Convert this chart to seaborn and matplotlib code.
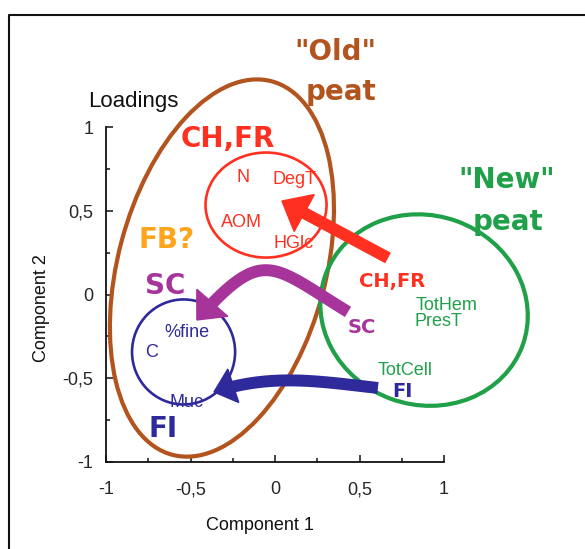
import numpy as np
import matplotlib
matplotlib.use("Agg")
import matplotlib.pyplot as plt
from matplotlib.patches import Ellipse, Polygon
from matplotlib.lines import Line2D
from matplotlib.ticker import MultipleLocator
import seaborn as sns

# ---- data -------------------------------------------------------------
tick_values = [-1, -0.5, 0, 0.5, 1]
tick_labels = ["-1", "-0,5", "0", "0,5", "1"]

# loadings of the measured variables (label positions)
var_names = ["N", "DegT", "AOM", "HGlc", "%fine", "C", "Muc", "TotHem", "PresT", "TotCell"]
var_x = [-0.189, 0.118, -0.201, 0.112, -0.521, -0.728, -0.521, 1.018, 0.970, 0.769]
var_y = [0.672, 0.660, 0.403, 0.278, -0.254, -0.373, -0.672, -0.093, -0.188, -0.478]
var_group = ["red", "red", "red", "red", "blue", "blue", "blue", "green", "green", "green"]

# groups drawn as ellipses: old peat, CH/FR cluster, SC/FI cluster, new peat
ell_group = ["brown", "red", "blue", "green"]
ell_x = [-0.314, -0.053, -0.541, 0.882]
ell_y = [0.158, 0.534, -0.343, -0.093]
ell_w = [2.306, 0.716, 0.610, 1.240]
ell_h = [1.230, 0.627, 0.627, 1.130]
ell_angle = [75.3, 0, 0, -20]

# big hand-written annotations
big_text = ['"Old"', "peat", '"New"', "peat", "CH,FR", "FB?", "SC", "FI"]
big_x = [0.355, 0.391, 1.373, 1.379, -0.278, -0.639, -0.651, -0.663]
big_y = [1.400, 1.161, 0.636, 0.385, 0.881, 0.278, 0.003, -0.851]
big_group = ["brown", "brown", "green", "green", "red", "orange", "magenta", "blue"]

# process labels at the arrow tails
proc_text = ["CH,FR", "SC", "FI"]
proc_x = [0.692, 0.515, 0.756]
proc_y = [0.045, -0.230, -0.610]
proc_group = ["red", "magenta", "blue"]

# arrows: tail -> tip
arrow_group = ["red", "magenta", "blue"]
arrow_tail_x = [0.669, 0.432, 0.609]
arrow_tail_y = [0.218, -0.104, -0.558]
arrow_tip_x = [0.041, -0.462, -0.361]
arrow_tip_y = [0.558, -0.152, -0.582]

colors = {
    "brown": "#B3541E",
    "red": "#FF3020",
    "blue": "#2F2A9C",
    "green": "#1FA049",
    "magenta": "#A6349A",
    "orange": "#FFA41B",
}

# arrow shapes: angle out of tail, angle into tip (deg), handle lengths
arrow_shape = {
    "red": dict(a_out=151.6, a_in=151.6, h_out=0.24, h_in=0.24, head_len=0.15, head_hw=0.125),
    "magenta": dict(a_out=148.3, a_in=228.5, h_out=0.535, h_in=0.595, head_len=0.137, head_hw=0.122),
    "blue": dict(a_out=173.6, a_in=198.0, h_out=0.36, h_in=0.36, head_len=0.12, head_hw=0.105),
}


def draw_arrow(ax, tail, tip, color, a_out, a_in, h_out, h_in, head_len, head_hw):
    p0 = np.array(tail)
    p3 = np.array(tip)
    u0 = np.array([np.cos(np.radians(a_out)), np.sin(np.radians(a_out))])
    u1 = np.array([np.cos(np.radians(a_in)), np.sin(np.radians(a_in))])
    p1 = p0 + h_out * u0
    p2 = p3 - h_in * u1
    t = np.linspace(0, 1, 100)[:, None]
    pts = (1 - t) ** 3 * p0 + 3 * (1 - t) ** 2 * t * p1 + 3 * (1 - t) * t ** 2 * p2 + t ** 3 * p3
    keep = np.hypot(pts[:, 0] - p3[0], pts[:, 1] - p3[1]) > head_len * 0.7
    sns.lineplot(x=pts[keep, 0], y=pts[keep, 1], sort=False, estimator=None,
                 color=color, lw=8.6, solid_capstyle="butt", clip_on=False, ax=ax)
    base = p3 - head_len * u1
    n = np.array([-u1[1], u1[0]])
    head = Polygon([p3, base + head_hw * n, base - head_hw * n], closed=True,
                   facecolor=color, edgecolor=color, lw=1, clip_on=False, zorder=3)
    ax.add_patch(head)


# ---- figure -----------------------------------------------------------
sns.set_theme(style="ticks")
plt.rcParams["font.family"] = ["Liberation Sans", "DejaVu Sans"]

W, H = 585, 549
fig = plt.figure(figsize=(W / 100, H / 100), dpi=100)
ax = fig.add_axes([106 / W, 1 - 462 / H, 338 / W, 335 / H])

ax.set_xlim(-1, 1)
ax.set_ylim(-1, 1)
sns.despine(ax=ax)
for side in ["left", "bottom"]:
    ax.spines[side].set_linewidth(1.3)
    ax.spines[side].set_color("#111111")
ax.set_xticks(tick_values)
ax.set_xticklabels(tick_labels)
ax.set_yticks(tick_values)
ax.set_yticklabels(tick_labels)
ax.xaxis.set_minor_locator(MultipleLocator(0.25))
ax.yaxis.set_minor_locator(MultipleLocator(0.25))
ax.tick_params(which="major", direction="in", length=5, width=1.1, labelsize=13, color="#111111")
ax.tick_params(which="minor", direction="in", length=3, width=1.1, color="#111111")
ax.tick_params(axis="x", which="major", pad=14)
ax.tick_params(axis="y", which="major", pad=9)
ax.set_facecolor("none")

# ellipses
for g, cx, cy, w, h, a in zip(ell_group, ell_x, ell_y, ell_w, ell_h, ell_angle):
    lw = 3.0 if g in ("brown", "green") else 1.9
    ax.add_patch(Ellipse((cx, cy), w, h, angle=a, fill=False, edgecolor=colors[g],
                         lw=lw, clip_on=False, zorder=2))

# arrows
for g, tx, ty, hx, hy in zip(arrow_group, arrow_tail_x, arrow_tail_y, arrow_tip_x, arrow_tip_y):
    draw_arrow(ax, (tx, ty), (hx, hy), colors[g], **arrow_shape[g])

# variable labels
for name, x, y, g in zip(var_names, var_x, var_y, var_group):
    ax.text(x, y, name, color=colors[g], fontsize=13, ha="center", va="baseline", zorder=4)

# big annotations
for s, x, y, g in zip(big_text, big_x, big_y, big_group):
    ax.text(x, y, s, color=colors[g], fontsize=20, fontweight="bold", family="DejaVu Sans",
            ha="center", va="baseline", zorder=4)

for s, x, y, g in zip(proc_text, proc_x, proc_y, proc_group):
    ax.text(x, y, s, color=colors[g], fontsize=14, fontweight="bold", family="DejaVu Sans",
            ha="center", va="baseline", zorder=4)

# axis texts
fig.text(88 / W, 1 - 107 / H, "Loadings", fontsize=16, ha="left", va="baseline", color="#111111")
fig.text(260 / W, 1 - 525 / H, "Component 1", fontsize=13, ha="center", va="center", color="#111111")
fig.text(42 / W, 1 - 308 / H, "Component 2", fontsize=13, ha="center", va="center",
         rotation=90, color="#111111")

# outer frame (only top and left edges visible)
fig.add_artist(Line2D([9 / W, 9 / W, 1], [0, 1 - 15 / H, 1 - 15 / H],
                      transform=fig.transFigure, color="#111111", lw=1.5))

fig.savefig("out.png", dpi=100)
